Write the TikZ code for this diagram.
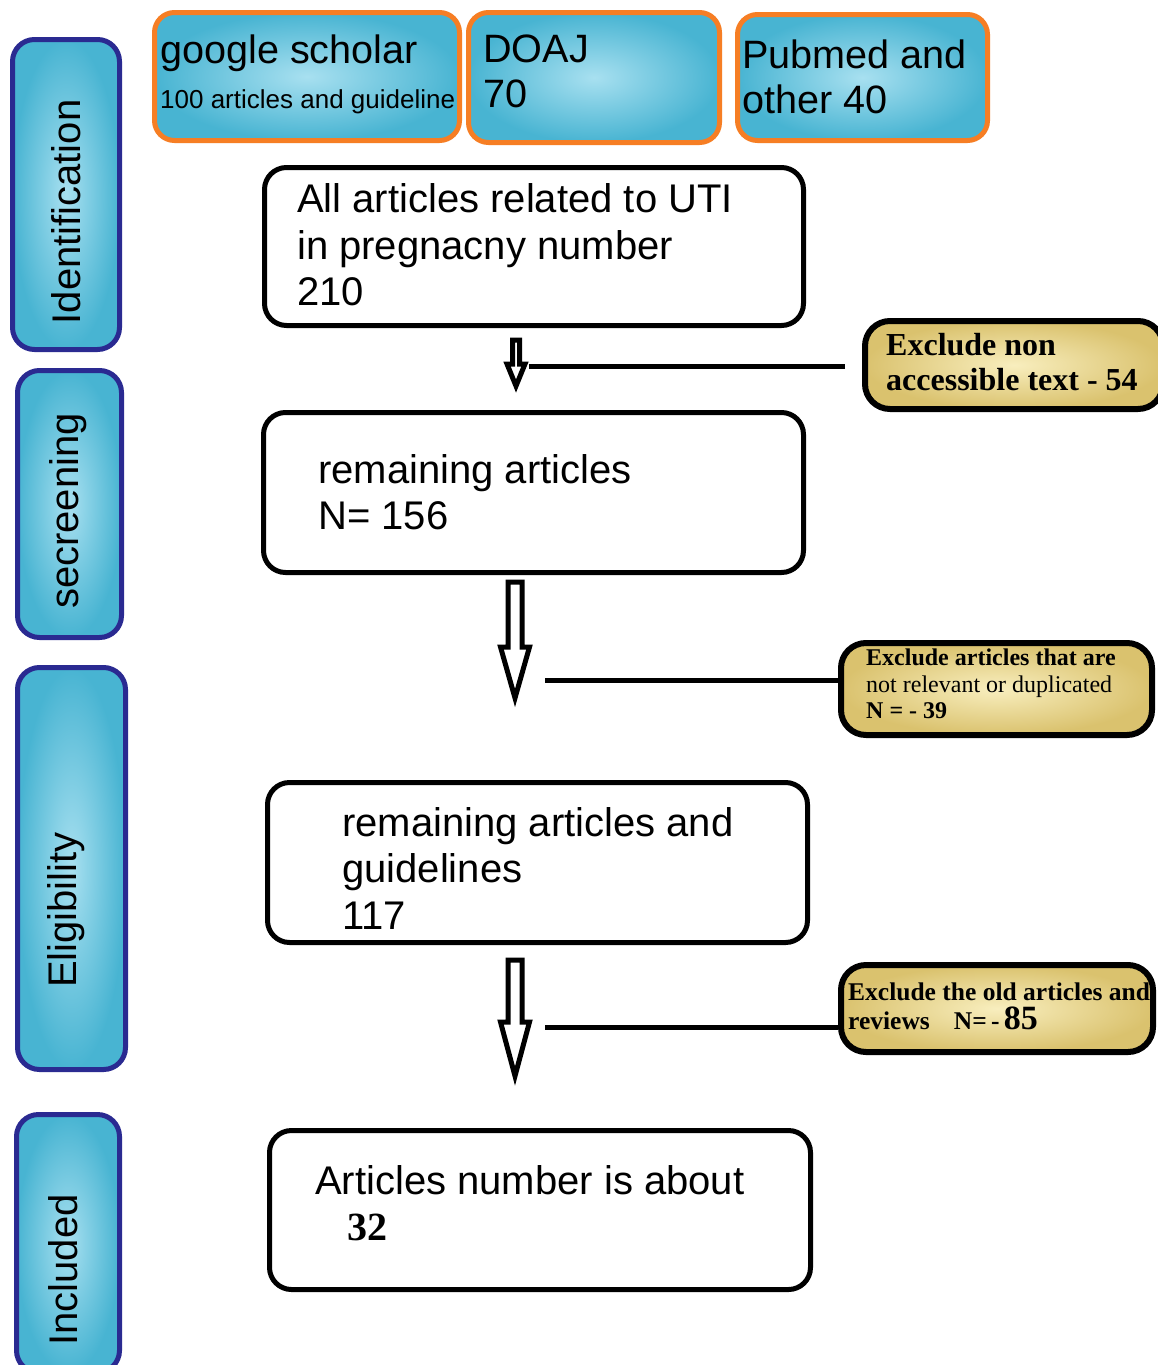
\documentclass[tikz,border=0pt]{standalone}
\usepackage{fontspec}
\setmainfont{Liberation Sans}
\newfontfamily\tms{Liberation Serif}
\definecolor{bluein}{RGB}{168,224,240}
\definecolor{blueout}{RGB}{72,180,210}
\definecolor{navy}{RGB}{42,42,145}
\definecolor{orng}{RGB}{246,126,36}
\definecolor{goldin}{RGB}{248,238,190}
\definecolor{goldout}{RGB}{218,194,110}
\tikzset{
  side/.style={draw=navy, line width=5pt, rounded corners=22pt, inner color=bluein, outer color=blueout},
  src/.style={draw=orng, line width=5pt, rounded corners=20pt, inner color=bluein, outer color=blueout},
  mainbox/.style={draw=black, line width=5pt, rounded corners=22pt, fill=white},
  exbox/.style={draw=black, line width=6pt, rounded corners=25pt, inner color=goldin, outer color=goldout},
  big/.style={font=\fontsize{40}{46.5}\selectfont, align=left, inner sep=0pt},
  srct/.style={inner sep=0pt, anchor=base west, font=\fontsize{39.6}{44}\selectfont},
  exline/.style={line width=5pt},
  blk/.style={draw=black, line width=5pt, fill=white, line join=miter},
}
\newcommand\blkarrow[6]{%
  \draw[blk] (#1-#5,#2) -- (#1+#5,#2) -- (#1+#5,#3) -- (#1+#6,#3) -- (#1,#4) -- (#1-#6,#3) -- (#1-#5,#3) -- cycle;}
\begin{document}
\begin{tikzpicture}[x=1pt,y=-1pt]
\clip (0,0) rectangle (1158,1365);
\fill[white] (0,0) rectangle (1158,1365);

% side stage boxes
\node[side, minimum width=107, minimum height=310] (s1) at (66,194.5) {};
\node[big, rotate=90] (s1t) at (66,212) {Identification};
\node[side, minimum width=104, minimum height=267] (s2) at (69.5,504) {};
\node[big, rotate=90] (s2t) at (68,511) {secreening};
\node[side, minimum width=108, minimum height=402] (s3) at (71.5,868.5) {};
\node[big, rotate=90] (s3t) at (66,910) {Eligibility};
\node[side, minimum width=103, minimum height=258] (s4) at (68,1243.5) {};
\node[big, rotate=90] (s4t) at (63,1270) {Included};

% source boxes
\node[src, minimum width=305, minimum height=128] (g) at (307,76.5) {};
\node[srct] (gt1) at (160,63) {google scholar};
\node[inner sep=0pt, anchor=base west, font=\fontsize{26}{30}\selectfont] (gt2) at (160,108) {100 articles and guideline};
\node[src, minimum width=251, minimum height=130] (d) at (594,77.5) {};
\node[srct] (dt1) at (483,62) {DOAJ};
\node[srct] (dt2) at (483,107) {70};
\node[src, minimum width=250, minimum height=126] (p) at (862.5,77.5) {};
\node[srct] (pt1) at (742,68) {Pubmed and};
\node[srct] (pt2) at (742,113) {other 40};

% main boxes
\node[mainbox, minimum width=539, minimum height=158] (b1) at (534,246.5) {};
\node[big, anchor=west] (b1t) at (297,245) {All articles related to UTI\\in pregnacny number\\210};
\node[mainbox, minimum width=540, minimum height=160] (b2) at (533.5,492.5) {};
\node[big, anchor=west] (b2t) at (318,492) {remaining articles\\N= 156};
\node[mainbox, minimum width=540, minimum height=160] (b3) at (537.5,862.5) {};
\node[big, anchor=west] (b3t) at (342,868) {remaining articles and\\guidelines\\117};
\node[mainbox, minimum width=541, minimum height=159] (b4) at (540,1210) {};
\node[big, anchor=west] (b4t) at (315,1203) {Articles number is about\\\hspace*{32pt}{\tms\bfseries 32}};

% exclusion boxes
\node[exbox, minimum width=298, minimum height=88] (ex1) at (1014,365) {};
\node[anchor=west, align=left, inner sep=0pt, font=\tms\bfseries\fontsize{32}{35}\selectfont] (ex1t) at (886,362) {Exclude non\\accessible text - 54};
\node[exbox, minimum width=311, minimum height=92] (ex2) at (996.5,689) {};
\node[anchor=west, align=left, inner sep=0pt, font=\tms\fontsize{24}{26.5}\selectfont] (ex2t) at (866,684) {{\bfseries Exclude articles that are}\\not relevant or duplicated\\{\bfseries N = - 39}};
\node[exbox, minimum width=312, minimum height=87] (ex3) at (997,1008.5) {};
\node[anchor=west, align=left, inner sep=0pt, font=\tms\bfseries\fontsize{25.5}{29}\selectfont] (ex3t) at (848,1006) {Exclude the old articles and\\reviews\hspace{24pt}N=\,-\,{\fontsize{34}{34}\selectfont 85}};

% block arrows
\blkarrow{516}{340}{364}{386}{3.5}{9}
\blkarrow{515}{582}{647}{698}{7}{14.5}
\blkarrow{515}{960}{1022}{1076}{7}{14.5}

% exclusion connectors
\coordinate (c1) at (529,366);
\coordinate (c2) at (545,680);
\coordinate (c3) at (545,1027);
\draw[exline, shorten <=17pt] (ex1.west |- c1) -- (c1);
\draw[exline] (ex2.west |- c2) -- (c2);
\draw[exline] (ex3.west |- c3) -- (c3);
\end{tikzpicture}
\end{document}
